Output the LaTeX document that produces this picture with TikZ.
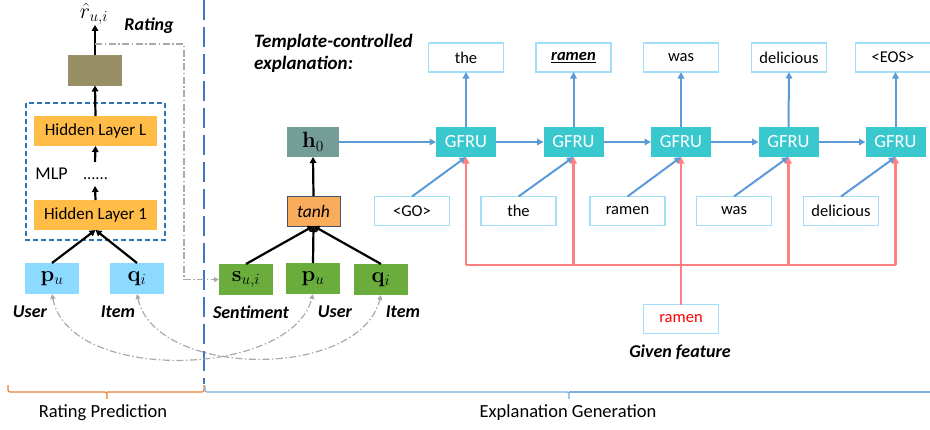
\RequirePackage{fix-cm}
\documentclass[tikz,border=0pt]{standalone}
\usepackage[no-math]{fontspec}
\setmainfont{Carlito}
\usetikzlibrary{arrows.meta}

\definecolor{hiddenc}{RGB}{255,188,71}
\definecolor{outc}{RGB}{152,143,103}
\definecolor{embc}{RGB}{140,218,255}
\definecolor{greenc}{RGB}{106,173,61}
\definecolor{hzeroc}{RGB}{117,157,152}
\definecolor{tanhc}{RGB}{248,172,92}
\definecolor{tanhb}{RGB}{68,84,106}
\definecolor{gfruc}{RGB}{56,200,206}
\definecolor{wordb}{RGB}{160,222,250}
\definecolor{flowc}{RGB}{91,155,213}
\definecolor{featc}{RGB}{255,128,128}
\definecolor{mlpc}{RGB}{46,117,182}
\definecolor{sepc}{RGB}{68,114,196}
\definecolor{feedc}{RGB}{170,170,170}
\definecolor{rpc}{RGB}{237,125,49}
\definecolor{egc}{RGB}{125,172,222}

\newcommand{\wordfont}{\fontsize{16.5}{19}\selectfont}
\newcommand{\lblfont}{\fontsize{18}{22}\selectfont\bfseries\itshape}
\newcommand{\gfrufont}{\fontsize{18.5}{21}\selectfont}
\newcommand{\vecfont}{\fontsize{22}{24}\selectfont}

\begin{document}
\begin{tikzpicture}[
  x = 1pt,
  y = -1pt,
  box/.style = {
    shape = rectangle,
    minimum width = 54pt,
    minimum height = 31pt,
    inner sep = 0pt,
    outer sep = 0pt,
  },
  hidden/.style = {
    box,
    fill = hiddenc,
    minimum width = 123pt,
    minimum height = 30pt,
    font = \fontsize{17}{20}\selectfont
  },
  vecbox/.style = {
    box,
    font = \vecfont
  },
  gfru/.style = {
    box,
    fill = gfruc,
    minimum width = 60pt,
    minimum height = 30pt,
    text = white,
    font = \gfrufont
  },
  word/.style = {
    box,
    draw = wordb,
    line width = 1.3pt,
    fill = white,
    minimum width = 75pt,
    minimum height = 29pt,
    font = \wordfont
  },
  lbl/.style = {
    inner sep = 0pt,
    font = \lblfont
  },
  blk/.style = {
    draw = black,
    line width = 2.2pt,
    -{Triangle[length = 6pt, width = 6.5pt]}
  },
  flow/.style = {
    draw = flowc,
    line width = 2pt,
    -{Triangle[length = 6.5pt, width = 6.5pt]}
  },
  featline/.style = {
    draw = featc,
    line width = 2.2pt
  },
  feed/.style = {
    draw = feedc,
    line width = 1.2pt,
    dash pattern = on 7pt off 2.5pt on 1.5pt off 2.5pt
  }
]
  \useasboundingbox (0,0) rectangle (930,429);

  % rating prediction
  \node[inner sep = 0pt, font = \vecfont] (rhat) at (94,14) {$\hat{r}_{u,i}$};
  \node[lbl] (ratinglbl) at (149,26) {Rating};
  \node[box, fill = outc] (out) at (95,70) {};
  \draw[mlpc, line width = 1.6pt, dash pattern = on 5pt off 3pt] (26,103) rectangle (165,240);
  \node[hidden] (hidL) at (95.5,131) {Hidden Layer L};
  \node[hidden] (hid1) at (95.5,215) {Hidden Layer 1};
  \node[inner sep = 0pt, anchor = base, font = \fontsize{18}{20}\selectfont] (mlp) at (51.5,179) {MLP};
  \node[inner sep = 0pt, anchor = base, font = \wordfont] (dots) at (95.5,179) {......};
  \coordinate (mlpin) at (95,186);
  \coordinate (mlpout) at (95,162);
  \coordinate (rtap) at (95,44);

  \node[vecbox, fill = embc] (pul) at (52,278.5) {$\mathbf{p}_u$};
  \node[vecbox, fill = embc] (qil) at (137,278.5) {$\mathbf{q}_i$};
  \node[lbl] (userl) at (30,312) {User};
  \node[lbl] (iteml) at (118,312) {Item};

  \draw[blk] (pul.north) -- (hid1.south);
  \draw[blk] (qil.north) -- (hid1.south);
  \draw[blk] (hid1.north) -- (mlpin);
  \draw[blk] (mlpout) -- (hidL.south);
  \draw[blk] (hidL.north) -- (out.south);
  \draw[blk] (out.north) -- (out.north |- rhat.south);

  % separator
  \draw[sepc, line width = 2.8pt, dash pattern = on 20pt off 7pt] (204,0) -- (204,384);

  % explanation generation
  \node[vecbox, fill = greenc] (sui) at (246,279.5) {$\mathbf{s}_{u,i}$};
  \node[vecbox, fill = greenc] (pug) at (313,278.5) {$\mathbf{p}_u$};
  \node[vecbox, fill = greenc] (qig) at (381,279.5) {$\mathbf{q}_i$};
  \node[lbl] (sentl) at (251,312) {Sentiment};
  \node[lbl] (userg) at (335,312) {User};
  \node[lbl] (itemg) at (403,312) {Item};

  \node[box, fill = tanhc, draw = tanhb, line width = 1pt, minimum width = 53pt, minimum height = 30pt, font = \fontsize{17.5}{20}\selectfont\itshape] (tanh) at (313.5,211) {tanh};
  \node[vecbox, fill = hzeroc, minimum width = 52pt, minimum height = 30pt] (hzero) at (313,142) {$\mathbf{h}_0$};
  \draw[blk] (sui.north) -- (tanh.south);
  \draw[blk] (pug.north) -- (tanh.south);
  \draw[blk] (qig.north) -- (tanh.south);
  \draw[blk] (tanh.north) -- (hzero.south);

  \draw[feed, -{Triangle[length = 5pt, width = 5pt]}] (rtap) -- (184,44) |- (sui.west);
  \draw[feed, {Triangle[length = 5pt, width = 5pt]}-{Triangle[length = 5pt, width = 5pt]}]
    (pul.south) .. controls +(17,90) and +(-22,84) .. (pug.south);
  \draw[feed, {Triangle[length = 5pt, width = 5pt]}-{Triangle[length = 5pt, width = 5pt]}]
    (qil.south) .. controls +(18,84) and +(-22,86) .. (qig.south);

  \node[lbl, font = \fontsize{19}{22}\selectfont\bfseries\itshape, align = left, anchor = west] (tmpl) at (254,53) {Template-controlled\\explanation:};

  \node[gfru] (g1) at (466,142) {GFRU};
  \node[gfru] (g2) at (573.5,142) {GFRU};
  \node[gfru] (g3) at (681,142) {GFRU};
  \node[gfru] (g4) at (788.5,142) {GFRU};
  \node[gfru] (g5) at (895.5,142) {GFRU};

  \node[word] (o1) at (466,57.5) {the};
  \node[word] (o2) at (573.5,57.5) {\underline{\textbf{\textit{ramen}}}};
  \node[word] (o3) at (681,57.5) {was};
  \node[word] (o4) at (789,57.5) {delicious};
  \node[word] (o5) at (893,57.5) {<EOS>};

  \node[word] (w1) at (412,211) {<GO>};
  \node[word] (w2) at (518.5,211) {the};
  \node[word] (w3) at (627.5,211) {ramen};
  \node[word] (w4) at (734,211) {was};
  \node[word] (w5) at (841,211) {delicious};

  \draw[flow] (hzero.east) -- (g1.west);
  \draw[flow] (g1.east) -- (g2.west);
  \draw[flow] (g2.east) -- (g3.west);
  \draw[flow] (g3.east) -- (g4.west);
  \draw[flow] (g4.east) -- (g5.west);

  \draw[flow] (g1.north) -- (o1.south);
  \draw[flow] (g2.north) -- (o2.south);
  \draw[flow] (g3.north) -- (o3.south);
  \draw[flow] (g4.north) -- (o4.south);
  \draw[flow] (g5.north) -- (o5.south -| g5.north);

  \draw[flow] (w1.north) -- (g1.south);
  \draw[flow] (w2.north) -- (g2.south);
  \draw[flow] (w3.north) -- (g3.south);
  \draw[flow] (w4.north) -- (g4.south);
  \draw[flow] (w5.north) -- (g5.south);

  % given feature
  \node[word, text = red] (feat) at (681,319) {ramen};
  \node[lbl] (featl) at (680,352) {Given feature};
  \coordinate (bus) at (681,265);
  \draw[featline] (feat.north) -- (bus);
  \draw[featline] (g1.south |- bus) -- (g5.south |- bus);
  \draw[featline, -{Triangle[length = 6.5pt, width = 6.5pt]}] (g1.south |- bus) -- (g1.south);
  \draw[featline, -{Triangle[length = 6.5pt, width = 6.5pt]}] (g2.south |- bus) -- (g2.south);
  \draw[featline, -{Triangle[length = 6.5pt, width = 6.5pt]}] (g3.south |- bus) -- (g3.south);
  \draw[featline, -{Triangle[length = 6.5pt, width = 6.5pt]}] (g4.south |- bus) -- (g4.south);
  \draw[featline, -{Triangle[length = 6.5pt, width = 6.5pt]}] (g5.south |- bus) -- (g5.south);

  % braces
  \draw[rpc, line width = 1.2pt, rounded corners = 2pt] (8,385) |- (107,392) -- (107,399);
  \draw[rpc, line width = 1.2pt, rounded corners = 2pt] (107,392) -| (204,385);
  \draw[egc, line width = 1.2pt, rounded corners = 2pt] (205,386) |- (569,392) -- (569,399);
  \draw[egc, line width = 1.2pt] (569,392) -- (931,392);
  \node[inner sep = 0pt, font = \fontsize{18.5}{21}\selectfont] (rplbl) at (103,413) {Rating Prediction};
  \node[inner sep = 0pt, font = \fontsize{18.5}{21}\selectfont] (eglbl) at (568,413) {Explanation Generation};
\end{tikzpicture}
\end{document}
